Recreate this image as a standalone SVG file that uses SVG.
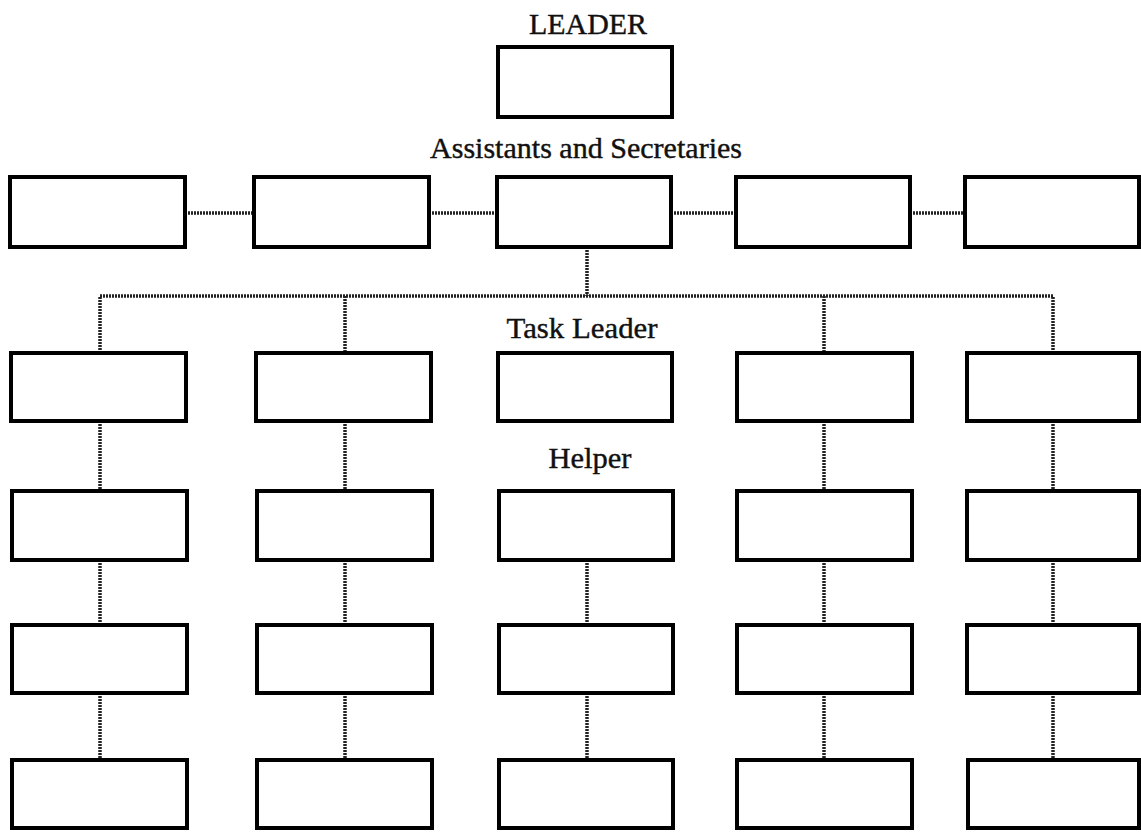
<svg xmlns="http://www.w3.org/2000/svg" width="1141" height="832" viewBox="0 0 1141 832">
<style>
.box{fill:#fff;stroke:#000;stroke-width:4}
.lbl{font-family:"Liberation Serif","Times New Roman",serif;font-size:29px;fill:#111;stroke:#111;stroke-width:0.4;text-anchor:middle}
.con{fill:none;stroke:#222;stroke-width:3.5;stroke-dasharray:2 1}
</style>
<rect width="1141" height="832" fill="#fff"/>
<g id="connectors">
<line class="con" x1="185" y1="213" x2="254" y2="213"/>
<line class="con" x1="429" y1="213" x2="497" y2="213"/>
<line class="con" x1="671" y1="213" x2="736" y2="213"/>
<line class="con" x1="910" y1="213" x2="965" y2="213"/>
<line class="con" x1="587" y1="247" x2="587" y2="296"/>
<polyline class="con" points="100,353 100,296 1053,296 1053,353"/>
<line class="con" x1="345" y1="296" x2="345" y2="353"/>
<line class="con" x1="824" y1="296" x2="824" y2="353"/>
<line class="con" x1="100" y1="421" x2="100" y2="491"/>
<line class="con" x1="345" y1="421" x2="345" y2="491"/>
<line class="con" x1="824" y1="421" x2="824" y2="491"/>
<line class="con" x1="1053" y1="421" x2="1053" y2="491"/>
<line class="con" x1="100" y1="560" x2="100" y2="625"/>
<line class="con" x1="345" y1="560" x2="345" y2="625"/>
<line class="con" x1="587" y1="560" x2="587" y2="625"/>
<line class="con" x1="824" y1="560" x2="824" y2="625"/>
<line class="con" x1="1053" y1="560" x2="1053" y2="625"/>
<line class="con" x1="100" y1="693" x2="100" y2="760"/>
<line class="con" x1="345" y1="693" x2="345" y2="760"/>
<line class="con" x1="587" y1="693" x2="587" y2="760"/>
<line class="con" x1="824" y1="693" x2="824" y2="760"/>
<line class="con" x1="1053" y1="693" x2="1053" y2="760"/>
</g>
<g id="labels">
<text class="lbl" x="588" y="34" textLength="118" lengthAdjust="spacingAndGlyphs">LEADER</text>
<text class="lbl" x="586" y="158" textLength="312" lengthAdjust="spacingAndGlyphs">Assistants and Secretaries</text>
<text class="lbl" x="582" y="338" textLength="151" lengthAdjust="spacingAndGlyphs">Task Leader</text>
<text class="lbl" x="590" y="468" textLength="83" lengthAdjust="spacingAndGlyphs">Helper</text>
</g>
<g id="leader"><rect class="box" x="498" y="47" width="174" height="70"/></g>
<g id="assistants">
<rect id="a1" class="box" x="10" y="177" width="175" height="70"/>
<rect id="a2" class="box" x="254" y="177" width="175" height="70"/>
<rect id="a3" class="box" x="497" y="177" width="174" height="70"/>
<rect id="a4" class="box" x="736" y="177" width="174" height="70"/>
<rect id="a5" class="box" x="965" y="177" width="174" height="70"/>
</g>
<g id="task-leaders">
<rect id="t1" class="box" x="11" y="353" width="175" height="68"/>
<rect id="t2" class="box" x="256" y="353" width="175" height="68"/>
<rect id="t3" class="box" x="498" y="353" width="174" height="68"/>
<rect id="t4" class="box" x="737" y="353" width="175" height="68"/>
<rect id="t5" class="box" x="967" y="353" width="172" height="68"/>
</g>
<g id="helpers1">
<rect id="h1a" class="box" x="12" y="491" width="175" height="69"/>
<rect id="h2a" class="box" x="257" y="491" width="175" height="69"/>
<rect id="h3a" class="box" x="499" y="491" width="174" height="69"/>
<rect id="h4a" class="box" x="737" y="491" width="175" height="69"/>
<rect id="h5a" class="box" x="967" y="491" width="172" height="69"/>
</g>
<g id="helpers2">
<rect id="h1b" class="box" x="12" y="625" width="175" height="68"/>
<rect id="h2b" class="box" x="257" y="625" width="175" height="68"/>
<rect id="h3b" class="box" x="499" y="625" width="174" height="68"/>
<rect id="h4b" class="box" x="737" y="625" width="175" height="68"/>
<rect id="h5b" class="box" x="967" y="625" width="172" height="68"/>
</g>
<g id="helpers3">
<rect id="h1c" class="box" x="12" y="760" width="175" height="68"/>
<rect id="h2c" class="box" x="257" y="760" width="175" height="68"/>
<rect id="h3c" class="box" x="499" y="760" width="174" height="68"/>
<rect id="h4c" class="box" x="737" y="760" width="175" height="68"/>
<rect id="h5c" class="box" x="968" y="760" width="171" height="68"/>
</g>
</svg>
